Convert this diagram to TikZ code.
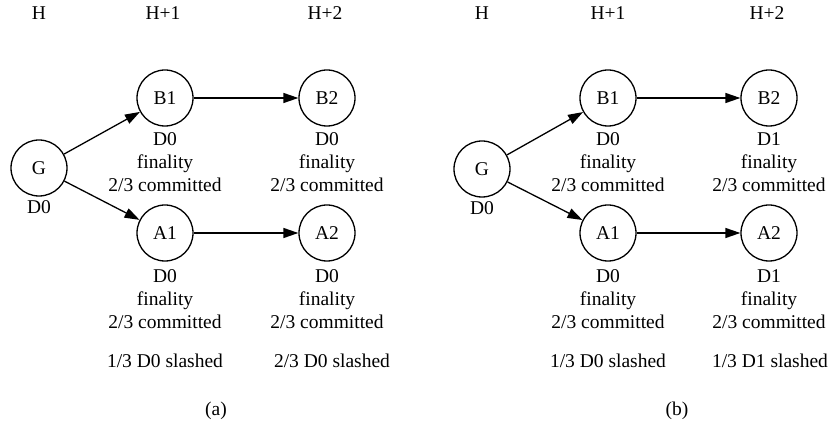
\documentclass[tikz,border=0pt]{standalone}
\usepackage{fontspec}
\setmainfont{Liberation Serif}
\usetikzlibrary{arrows.meta}
\tikzset{
  blk/.style={circle, draw, line width=1.3pt, minimum size=56pt, inner sep=0pt, font=\fontsize{19.5}{23}\selectfont},
  txt/.style={font=\fontsize{19.5}{23}\selectfont, inner sep=0pt, align=center},
  lbl/.style={txt, anchor=north},
  arr/.style={line width=1.3pt, -{Triangle[length=15pt,width=10pt]}}
}
\begin{document}
\begin{tikzpicture}[x=1pt,y=-1pt]
\useasboundingbox (0,0) rectangle (833,427);
% ---------- panel (a)
\node[txt, anchor=base] (aH)  at (39,20)  {H};
\node[txt, anchor=base] (aH1) at (163,20) {H+1};
\node[txt, anchor=base] (aH2) at (325,20) {H+2};
\node[blk] (aG)  at (39,168)  {G};
\node[blk] (aB1) at (165,98)  {B1};
\node[blk] (aB2) at (327,98)  {B2};
\node[blk] (aA1) at (165,233) {A1};
\node[blk] (aA2) at (327,233) {A2};
\node[lbl] (aGl)  at (39,200.5)  {D0};
\node[lbl] (aB1l) at (165,132.5) {D0\\finality\\2/3 committed};
\node[lbl] (aB2l) at (327,132.5) {D0\\finality\\2/3 committed};
\node[lbl] (aA1l) at (165,269.5) {D0\\finality\\2/3 committed};
\node[lbl] (aA2l) at (327,269.5) {D0\\finality\\2/3 committed};
\node[txt, anchor=base] (aA1s) at (165,367.5) {1/3 D0 slashed};
\node[txt, anchor=base] (aA2s) at (332,367.5) {2/3 D0 slashed};
\node[txt] (acap) at (216,411) {(a)};
\draw[arr] (aG) -- (aB1);
\draw[arr] (aG) -- (aA1);
\draw[arr] (aB1) -- (aB2);
\draw[arr] (aA1) -- (aA2);
% ---------- panel (b)
\node[txt, anchor=base] (bH)  at (482,20) {H};
\node[txt, anchor=base] (bH1) at (608,20) {H+1};
\node[txt, anchor=base] (bH2) at (767,20) {H+2};
\node[blk] (bG)  at (482,169) {G};
\node[blk] (bB1) at (608,98)  {B1};
\node[blk] (bB2) at (769,98)  {B2};
\node[blk] (bA1) at (608,233) {A1};
\node[blk] (bA2) at (769,233) {A2};
\node[lbl] (bGl)  at (482,201.5) {D0};
\node[lbl] (bB1l) at (608,132.5) {D0\\finality\\2/3 committed};
\node[lbl] (bB2l) at (769,132.5) {D1\\finality\\2/3 committed};
\node[lbl] (bA1l) at (608,269.5) {D0\\finality\\2/3 committed};
\node[lbl] (bA2l) at (769,269.5) {D1\\finality\\2/3 committed};
\node[txt, anchor=base] (bA1s) at (608,367.5) {1/3 D0 slashed};
\node[txt, anchor=base] (bA2s) at (770,367.5) {1/3 D1 slashed};
\node[txt] (bcap) at (677,411) {(b)};
\draw[arr] (bG) -- (bB1);
\draw[arr] (bG) -- (bA1);
\draw[arr] (bB1) -- (bB2);
\draw[arr] (bA1) -- (bA2);
\end{tikzpicture}
\end{document}
